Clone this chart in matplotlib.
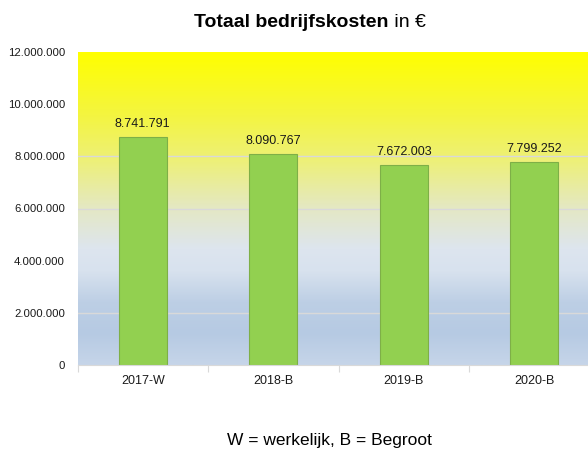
import numpy as np
import matplotlib
matplotlib.use("Agg")
import matplotlib.pyplot as plt
from matplotlib.colors import LinearSegmentedColormap
from matplotlib.ticker import FuncFormatter

categories = ["2017-W", "2018-B", "2019-B", "2020-B"]
values = [8741791, 8090767, 7672003, 7799252]
yticks = [0, 2000000, 4000000, 6000000, 8000000, 10000000, 12000000]
gridlines = [2000000, 6000000, 8000000]

def fmt(v):
    return f"{int(v):,}".replace(",", ".")

plt.rcParams['font.family'] = ['Liberation Sans', 'DejaVu Sans']

fig = plt.figure(figsize=(5.88, 4.54), dpi=100)
ax = fig.add_axes([77.5 / 588, (454 - 365) / 454, 522 / 588, (365 - 52) / 454])

# gradient background
stops = [(0.0, "#C6D5E9"), (0.1, "#B6CAE3"), (0.2, "#BDCFE5"), (0.3, "#D8E2EE"),
         (0.37, "#DDE5EF"), (0.5, "#E4E8C4"), (0.65, "#EDF07A"), (0.8, "#F4F540"),
         (1.0, "#FFFF00")]
cmap = LinearSegmentedColormap.from_list("bg", stops)
grad = np.linspace(0, 1, 256).reshape(-1, 1)
ax.imshow(grad, aspect="auto", cmap=cmap, origin="lower",
          extent=[-0.5, len(categories) - 0.5, 0, 12000000], zorder=0)

for g in gridlines:
    ax.axhline(g, color="#D9D9D9", lw=1.0, zorder=1)

x = np.arange(len(categories))
ax.bar(x, values, width=0.37, color="#92D050", edgecolor="#7EAF47", lw=0.8, zorder=2)
for xi, v in zip(x, values):
    ax.annotate(fmt(v), (xi, v), xytext=(0, 5), textcoords="offset points",
                ha="center", va="bottom", fontsize=9, color="#1a1a1a")

ax.set_xlim(-0.5, len(categories) - 0.5)
ax.set_ylim(0, 12000000)
ax.set_yticks(yticks)
ax.yaxis.set_major_formatter(FuncFormatter(lambda v, p: fmt(v)))
ax.set_xticks(x)
ax.set_xticklabels(categories)
ax.set_xticks(np.arange(-0.5, len(categories), 1), minor=True)
ax.tick_params(axis="x", which="major", length=0, pad=7, labelsize=9, colors="#1a1a1a")
ax.tick_params(axis="x", which="minor", length=5, color="#D9D9D9", width=0.8)
ax.tick_params(axis="y", length=0, pad=9, labelsize=8.2, colors="#1a1a1a")
for s in ["top", "right", "left"]:
    ax.spines[s].set_visible(False)
ax.spines["bottom"].set_color("#D9D9D9")
ax.spines["bottom"].set_linewidth(0.8)

# title with mixed weight
t1 = fig.text(0.0, 0.0, "Totaal bedrijfskosten", fontsize=14, fontweight="bold", color="black")
t2 = fig.text(0.0, 0.0, " in €", fontsize=14, color="black")
fig.canvas.draw()
r = fig.canvas.get_renderer()
w1 = t1.get_window_extent(r).width
w2 = t2.get_window_extent(r).width
cx = 310
x0 = cx - (w1 + w2) / 2
y0 = 454 - 27
t1.set_position((x0 / 588, y0 / 454))
t2.set_position(((x0 + w1) / 588, y0 / 454))

fig.text(329 / 588, 1 - 440 / 454, "W = werkelijk, B = Begroot", fontsize=12.5,
         ha="center", va="center", color="black")

fig.savefig("out.png", dpi=100)
